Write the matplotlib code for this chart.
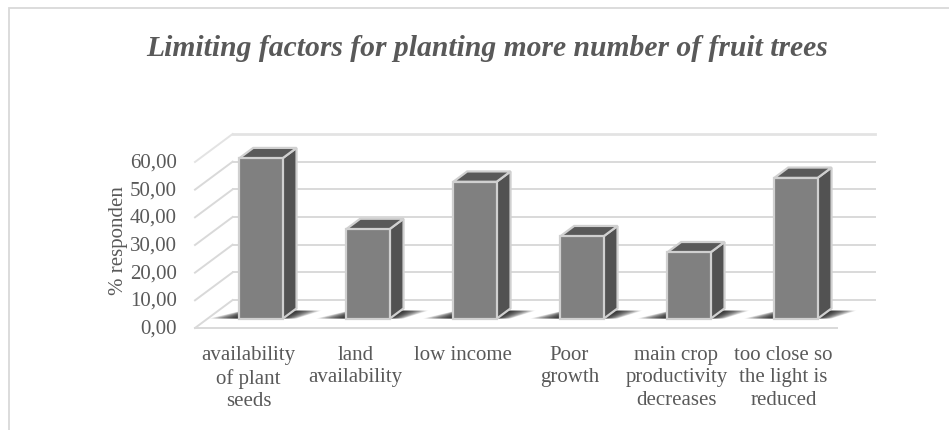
import numpy as np
import matplotlib.pyplot as plt
from matplotlib.patches import Polygon, Rectangle

categories = ['availability\nof plant\nseeds', 'land\navailability', 'low income',
              'Poor\ngrowth', 'main crop\nproductivity\ndecreases',
              'too close so\nthe light is\nreduced']
values = [58.0, 32.4, 49.5, 29.8, 24.0, 50.9]
yticks = [0, 10, 20, 30, 40, 50, 60]
ytick_labels = ['0,00', '10,00', '20,00', '30,00', '40,00', '50,00', '60,00']

plt.rcParams['font.family'] = ['Liberation Serif', 'DejaVu Serif']
txt = '#595959'
grid = '#d9d9d9'

W, H = 949, 431
fig = plt.figure(figsize=(W / 100, H / 100), dpi=100)
ax = fig.add_axes([0, 0, 1, 1])
# pixel scale of the front plane: 107 px per category, 2.767 px per unit
x0, sx = 248.5, 107.0
y0, sy = 329.0, 2.767
ax.set_xlim(-x0 / sx, (W - x0) / sx)
ax.set_ylim(-(H - y0) / sy, y0 / sy)
ax.axis('off')

# oblique depth vector (front edge -> back wall)
DX, DY = 0.352, 10.12
d0, d1 = 0.33, 0.70   # bar front / back depth
bw = 0.405
n = len(values)
xs = np.arange(n)
left, right = -0.5, n - 0.5


def P(x, v, d):
    return (x + d * DX, v + d * DY)


# back wall and side wall gridlines
for t in yticks:
    lw = 2.0 if t == yticks[-1] else 1.4
    c = '#e3e3e3' if t == yticks[-1] else grid
    a, b = P(left, t, 1), P(right, t, 1)
    ax.plot([a[0], b[0]], [a[1], b[1]], color=c, lw=lw, zorder=1)
    f = P(left, t, 0)
    ax.plot([f[0], a[0]], [f[1], a[1]], color=c, lw=1.4, zorder=1)
# floor front edge
ax.plot([left, right], [0, 0], color=grid, lw=1.4, zorder=1)

# soft floor shadows
for k, v in enumerate(values):
    xl, xr = k - bw / 2, k + bw / 2
    for i in range(20):
        e = 0.01 + i * 0.013
        pts = [P(xl - e - 0.03, 0, d0 + 0.01), P(xr + e * 0.5, 0, d0 + 0.01),
               P(xr + e * 0.9 + 0.03, 0, d1 - 0.08), P(xl - e * 0.3, 0, d1 - 0.08)]
        ax.add_patch(Polygon(pts, closed=True, facecolor='black', edgecolor='none',
                             alpha=0.065, zorder=2))

# bars: front faces via bar(), side and top faces as polygons
edge = '#d0d0d0'
ax.bar(xs + d0 * DX, values, width=bw, bottom=d0 * DY, color='#808080',
       edgecolor=edge, linewidth=1.6, zorder=4)
for k, v in enumerate(values):
    xl, xr = k - bw / 2, k + bw / 2
    side = [P(xr, 0, d0), P(xr, 0, d1), P(xr, v, d1), P(xr, v, d0)]
    top = [P(xl, v, d0), P(xr, v, d0), P(xr, v, d1), P(xl, v, d1)]
    ax.add_patch(Polygon(side, closed=True, facecolor='#525252', edgecolor=edge,
                         linewidth=1.6, zorder=3))
    ax.add_patch(Polygon(top, closed=True, facecolor='#595959', edgecolor=edge,
                         linewidth=1.6, zorder=3))

# tick labels
for t, lab in zip(yticks, ytick_labels):
    ax.text((177 - x0) / sx, t, lab, ha='right', va='center', fontsize=15, color=txt)
for k, lab in enumerate(categories):
    ax.text(k, -(346 - y0) / sy, lab, ha='center', va='top', fontsize=15,
            color=txt, linespacing=1.25)
ax.text((118 - x0) / sx, 32, '% responden', rotation=90, ha='center', va='center',
        fontsize=15, color=txt)

fig.text(487 / W, 1 - 48 / H, 'Limiting factors for planting more number of fruit trees',
         ha='center', va='center', fontsize=21.3, fontweight='bold', fontstyle='italic',
         color=txt)

fig.patches.append(Rectangle((8.5 / W, -0.1), 1.2, 1 - 8.7 / H + 0.1,
                             transform=fig.transFigure, fill=False,
                             edgecolor='#d9d9d9', linewidth=1.3))

fig.savefig('out.png', dpi=100)
